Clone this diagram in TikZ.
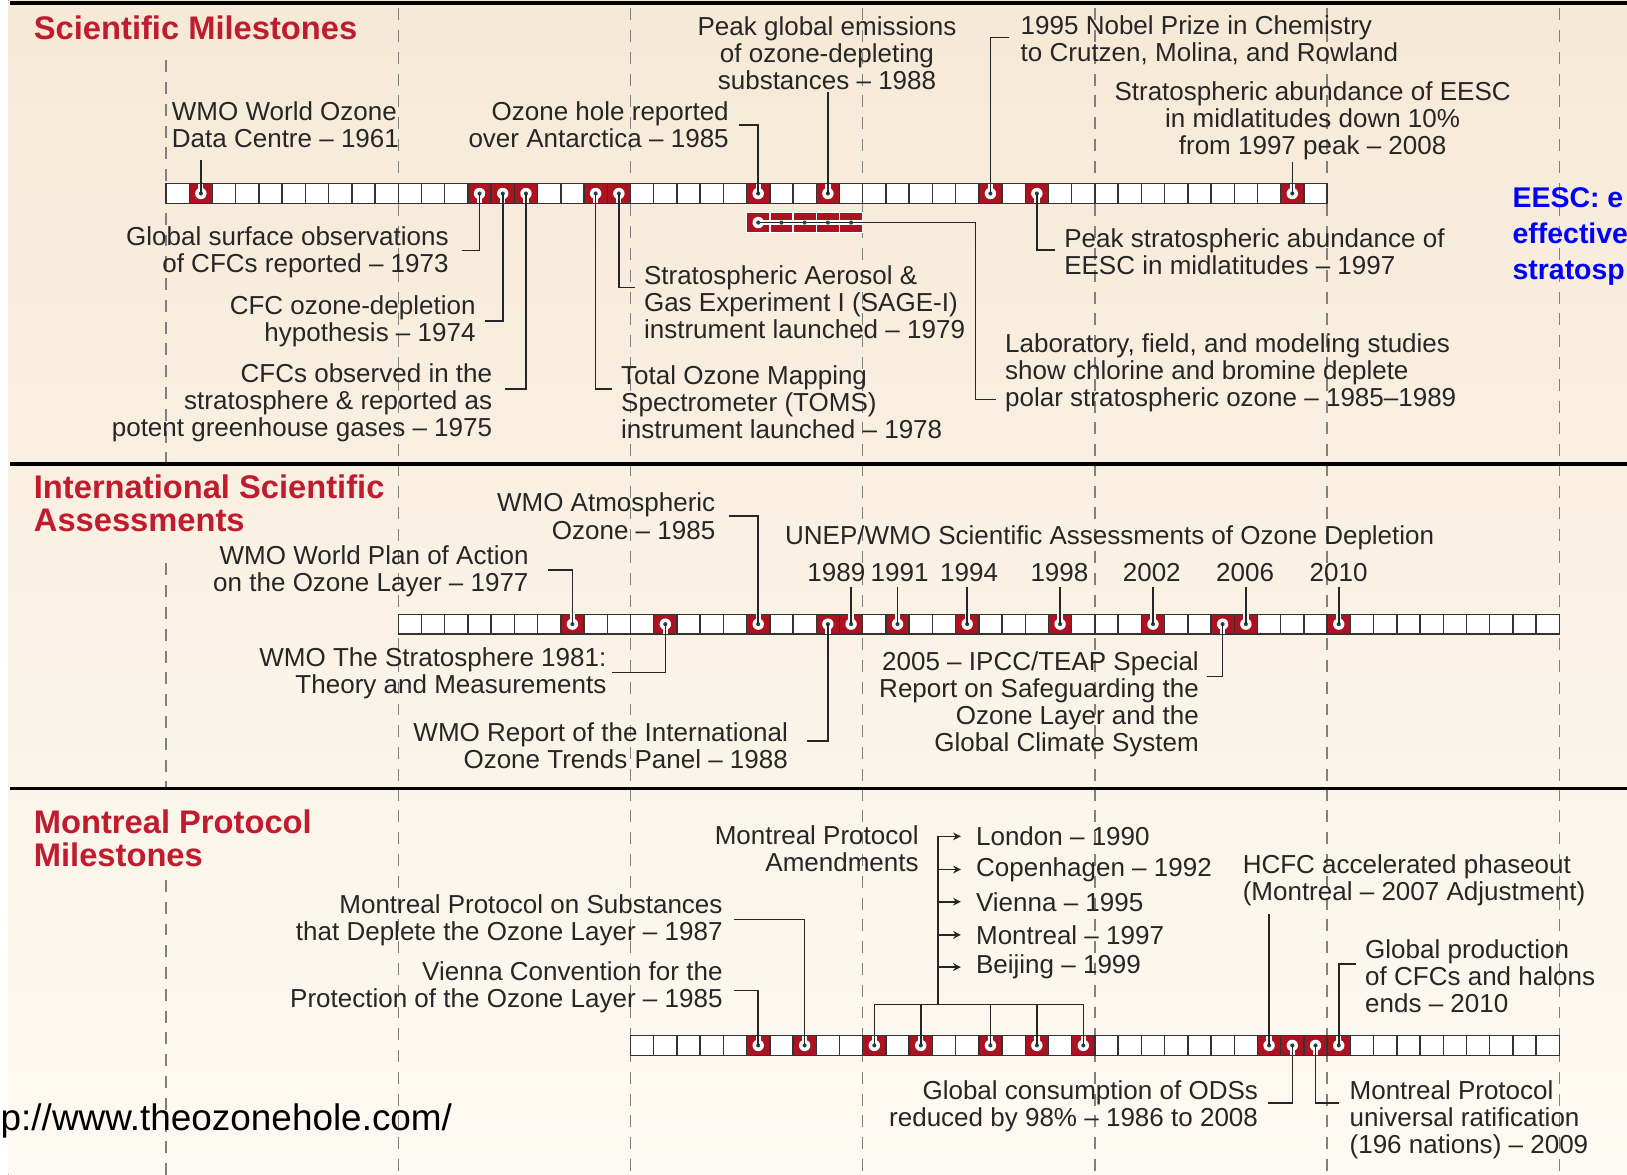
\documentclass[tikz,border=0pt]{standalone}
\usepackage{fontspec}
\setmainfont{Liberation Sans}
\usetikzlibrary{arrows.meta}

\definecolor{ozred}{RGB}{172,18,32}
\definecolor{oztitle}{RGB}{192,28,48}
\definecolor{ozdot}{RGB}{40,70,72}
\definecolor{ozbgtop}{RGB}{246,233,214}
\definecolor{ozbgbot}{RGB}{253,250,243}
\definecolor{oztext}{RGB}{38,38,38}

\tikzset{
  lbl/.style={inner sep=0, text=oztext, font=\fontsize{7.4}{7.7}\selectfont},
  lblr/.style={lbl, align=right, anchor=east},
  lbll/.style={lbl, align=left, anchor=west},
  lblc/.style={lbl, align=center},
  sectitle/.style={inner sep=0, anchor=west, align=left, text=oztitle,
    font=\bfseries\fontsize{9.3}{9.4}\selectfont},
  lead/.style={draw=black!85, line width=0.45pt},
  amend/.style={lead, -{Stealth[length=2.2pt,width=2.2pt]}},
  decade/.style={draw=black!50, line width=0.4pt, dash pattern=on 3.4pt off 2.8pt},
  rule/.style={draw=black, line width=1pt},
  cellbox/.style={fill=white, draw=black!80, line width=0.4pt},
  hitbox/.style={fill=ozred, draw=black!80, line width=0.4pt},
  notch/.style={white, line width=1.5pt}
}

\begin{document}
\begin{tikzpicture}[x=0.010376cm, y=-0.010376cm]
\useasboundingbox (0,0) rectangle (1568,1132);
\fill[top color=ozbgtop, bottom color=ozbgbot] (8,0) rectangle (1568,1132);

% decades
\foreach \dx/\ta/\ma/\ba in {160/58/543/848, 383.8/8/447/760, 607.6/8/447/760,
    831.4/8/447/760, 1055.2/8/447/760, 1279/8/447/760, 1502.8/8/447/760} {
  \draw[decade] (\dx,\ta) -- (\dx,447);
  \draw[decade] (\dx,\ma) -- (\dx,760);
  \draw[decade] (\dx,\ba) -- (\dx,1132);
}
\draw[rule] (10,3) -- (1568,3);
\draw[rule] (10,447) -- (1568,447);
\draw[rule] (10,760) -- (1568,760);

% scientific milestones bar
\foreach \yr in {1960,...,2009}
  \draw[cellbox] ({160+22.38*(\yr-1960)},177) rectangle ++(22.38,19);
\foreach \yr/\side in {1961/-1,1973/1,1974/1,1975/1,1978/1,1979/1,1985/-1,
    1988/-1,1995/-1,1997/1,2008/-1} {
  \pgfmathsetmacro\cellx{160+22.38*(\yr-1960)}
  \draw[hitbox] (\cellx,177) rectangle ++(22.38,19);
  \coordinate (t\yr) at (\cellx+11.19,186.5);
  \draw[notch] (t\yr) -- ++(0,\side*9.5);
  \fill[white] (t\yr) circle (5.5);
  \fill[ozdot] (t\yr) circle (2);
}
\foreach \yr in {1985,...,1989}
  \draw[fill=ozred, draw=white, line width=0.4pt] ({160+22.38*(\yr-1960)},205) rectangle ++(22.38,19);
\coordinate (s1985) at (730.7,214.5);
\draw[notch] (s1985) -- (831,214.5);
\fill[white] (s1985) circle (5.5);

% assessments bar
\foreach \yr in {1970,...,2019}
  \draw[cellbox] ({160+22.38*(\yr-1960)},592) rectangle ++(22.38,19);
\foreach \yr/\side in {1977/-1,1981/1,1985/-1,1988/1,1989/-1,1991/-1,1994/-1,
    1998/-1,2002/-1,2005/1,2006/-1,2010/-1} {
  \pgfmathsetmacro\cellx{160+22.38*(\yr-1960)}
  \draw[hitbox] (\cellx,592) rectangle ++(22.38,19);
  \coordinate (m\yr) at (\cellx+11.19,601.5);
  \draw[notch] (m\yr) -- ++(0,\side*9.5);
  \fill[white] (m\yr) circle (5.5);
  \fill[ozdot] (m\yr) circle (2);
}

% protocol bar
\foreach \yr in {1980,...,2019}
  \draw[cellbox] ({160+22.38*(\yr-1960)},998) rectangle ++(22.38,19);
\foreach \yr/\side in {1985/-1,1987/-1,1990/-1,1992/-1,1995/-1,1997/-1,1999/-1,
    2007/-1,2008/1,2009/1,2010/-1} {
  \pgfmathsetmacro\cellx{160+22.38*(\yr-1960)}
  \draw[hitbox] (\cellx,998) rectangle ++(22.38,19);
  \coordinate (p\yr) at (\cellx+11.19,1007.5);
  \draw[notch] (p\yr) -- ++(0,\side*9.5);
  \fill[white] (p\yr) circle (5.5);
  \fill[ozdot] (p\yr) circle (2);
}

% scientific milestones
\node[sectitle] (sci) at (32,27) {Scientific Milestones};
\node[lbll] (wmo61) at (165,120.5) {WMO World Ozone\\Data Centre – 1961};
\node[lblr] (hole85) at (703,120.5) {Ozone hole reported\\over Antarctica – 1985};
\node[lblc] (peak88) at (797,51) {Peak global emissions\\of ozone-depleting\\substances – 1988};
\node[lbll] (nobel95) at (983,38.5) {1995 Nobel Prize in Chemistry\\to Crutzen, Molina, and Rowland};
\node[lblc] (down08) at (1265,116) {Stratospheric abundance of EESC\\in midlatitudes down 10\%\\from 1997 peak – 2008};
\node[lblr] (obs73) at (433,243.5) {Global surface observations\\of CFCs reported – 1973};
\node[lblr] (hyp74) at (459,309.5) {CFC ozone-depletion\\hypothesis – 1974};
\node[lblr] (ghg75) at (475,388) {CFCs observed in the\\stratosphere \& reported as\\potent greenhouse gases – 1975};
\node[lbll] (toms78) at (598,388) {Total Ozone Mapping\\Spectrometer (TOMS)\\instrument launched – 1978};
\node[lbll] (sage79) at (620,291) {Stratospheric Aerosol \&\\Gas Experiment I (SAGE-I)\\instrument launched – 1979};
\node[lbll] (peak97) at (1025,242.5) {Peak stratospheric abundance of\\EESC in midlatitudes – 1997};
\node[lbll] (lab85) at (968,359) {Laboratory, field, and modeling studies\\show chlorine and bromine deplete\\polar stratospheric ozone – 1985–1989};
\node[inner sep=0, anchor=west, align=left, text=blue, font=\bfseries\fontsize{8.1}{10.2}\selectfont]
  (eesc) at (1457,228) {EESC: e\\effective\\stratosp};

\draw[lead] (wmo61.south -| t1961) ++(0,11) -- (t1961);
\draw[lead] (hole85.east) ++(9,0) -| (t1985);
\draw[lead] (peak88.south -| t1988) ++(0,2) -- (t1988);
\draw[lead] (nobel95.west) ++(-11,-2.5) -| (t1995);
\draw[lead] (down08.south -| t2008) ++(0,2) -- (t2008);
\draw[lead] (obs73.east) ++(12,-2) -| (t1973);
\draw[lead] (hyp74.east) ++(8,0) -| (t1974);
\draw[lead] (ghg75.east) ++(12,-13) -| (t1975);
\draw[lead] (toms78.west) ++(-8,-13) -| (t1978);
\draw[lead] (sage79.west) ++(-8,-14) -| (t1979);
\draw[lead] (peak97.west) ++(-8,-1.5) -| (t1997);
\draw[lead] (lab85.west) ++(-8,26) -- ++(-20,0) |- (s1985);
\foreach \yr in {1985,...,1989}
  \fill[ozdot] ({160+22.38*(\yr-1960)+11.19},214.5) circle (2);

% assessments
\node[sectitle] (isa) at (32,485.5) {International Scientific\\Assessments};
\node[lblr] (atm85) at (690,497.5) {WMO Atmospheric\\Ozone – 1985};
\node[lblr] (plan77) at (510,550.5) {WMO World Plan of Action\\on the Ozone Layer – 1977};
\node[lbll] (unep) at (756,518) {UNEP/WMO Scientific Assessments of Ozone Depletion};
\foreach \yr/\lx in {1989/806,1991/867,1994/934,1998/1021,2002/1110,2006/1200,2010/1290} {
  \node[lbl] (u\yr) at (\lx,552) {\yr};
  \draw[lead] (u\yr.south -| m\yr) ++(0,4) -- (m\yr);
}
\node[lblr] (strat81) at (585,649) {WMO The Stratosphere 1981:\\Theory and Measurements};
\node[lblr] (trends88) at (760,718.5) {WMO Report of the International\\Ozone Trends Panel – 1988};
\node[lblr] (ipcc05) at (1156,679) {2005 – IPCC/TEAP Special\\Report on Safeguarding the\\Ozone Layer and the\\Global Climate System};

\draw[lead] (atm85.east) ++(13,0) -| (m1985);
\draw[lead] (plan77.east) ++(18,-1) -| (m1977);
\draw[lead] (strat81.east) ++(5,-1) -| (m1981);
\draw[lead] (trends88.east) ++(18,-4.5) -| (m1988);
\draw[lead] (ipcc05.east) ++(7,-27) -| (m2005);

% protocol
\node[sectitle] (mpm) at (32,808) {Montreal Protocol\\Milestones};
\node[lblr] (amend) at (886,818) {Montreal Protocol\\Amendments};
\coordinate (brtop) at (904,806);
\coordinate (brbot) at (904,968);
\foreach \nm/\txt/\ly in {lon/London – 1990/806, cop/Copenhagen – 1992/838,
    vie/Vienna – 1995/869, mon/Montreal – 1997/901, bei/Beijing – 1999/932} {
  \node[lbll] (\nm) at (940,\ly) {\txt};
  \draw[amend] (\nm.west -| brtop) -- ++(22,0);
}
\draw[lead] (brtop) -- (brbot);
\draw[lead] (p1990 |- brbot) -- (p1999 |- brbot);
\foreach \yr in {1990,1992,1995,1997,1999}
  \draw[lead] (p\yr |- brbot) -- (p\yr);

\node[lblr] (subst87) at (697,887) {Montreal Protocol on Substances\\that Deplete the Ozone Layer – 1987};
\node[lblr] (vienna85) at (697,951.5) {Vienna Convention for the\\Protection of the Ozone Layer – 1985};
\node[lbll] (hcfc07) at (1197,848) {HCFC accelerated phaseout\\(Montreal – 2007 Adjustment)};
\node[lbll] (prod10) at (1315,941) {Global production\\of CFCs and halons\\ends – 2010};
\node[lblr] (ods) at (1213,1066.5) {Global consumption of ODSs\\reduced by 98\% – 1986 to 2008};
\node[lbll] (ratif09) at (1300,1079.5) {Montreal Protocol\\universal ratification\\(196 nations) – 2009};

\draw[lead] (subst87.east) ++(10,-1) -| (p1987);
\draw[lead] (vienna85.east) ++(10,3) -| (p1985);
\draw[lead] (hcfc07.south -| p2007) ++(0,7) -- (p2007);
\draw[lead] (prod10.west) ++(-8,-12) -| (p2010);
\draw[lead] (ods.east) ++(9,-3.5) -| (p2008);
\draw[lead] (ratif09.west) ++(-10,-16.5) -| (p2009);

\node[inner sep=0, anchor=west, font=\fontsize{10.5}{12}\selectfont] (url) at (0,1080)
  {p://www.theozonehole.com/};
\end{tikzpicture}
\end{document}
